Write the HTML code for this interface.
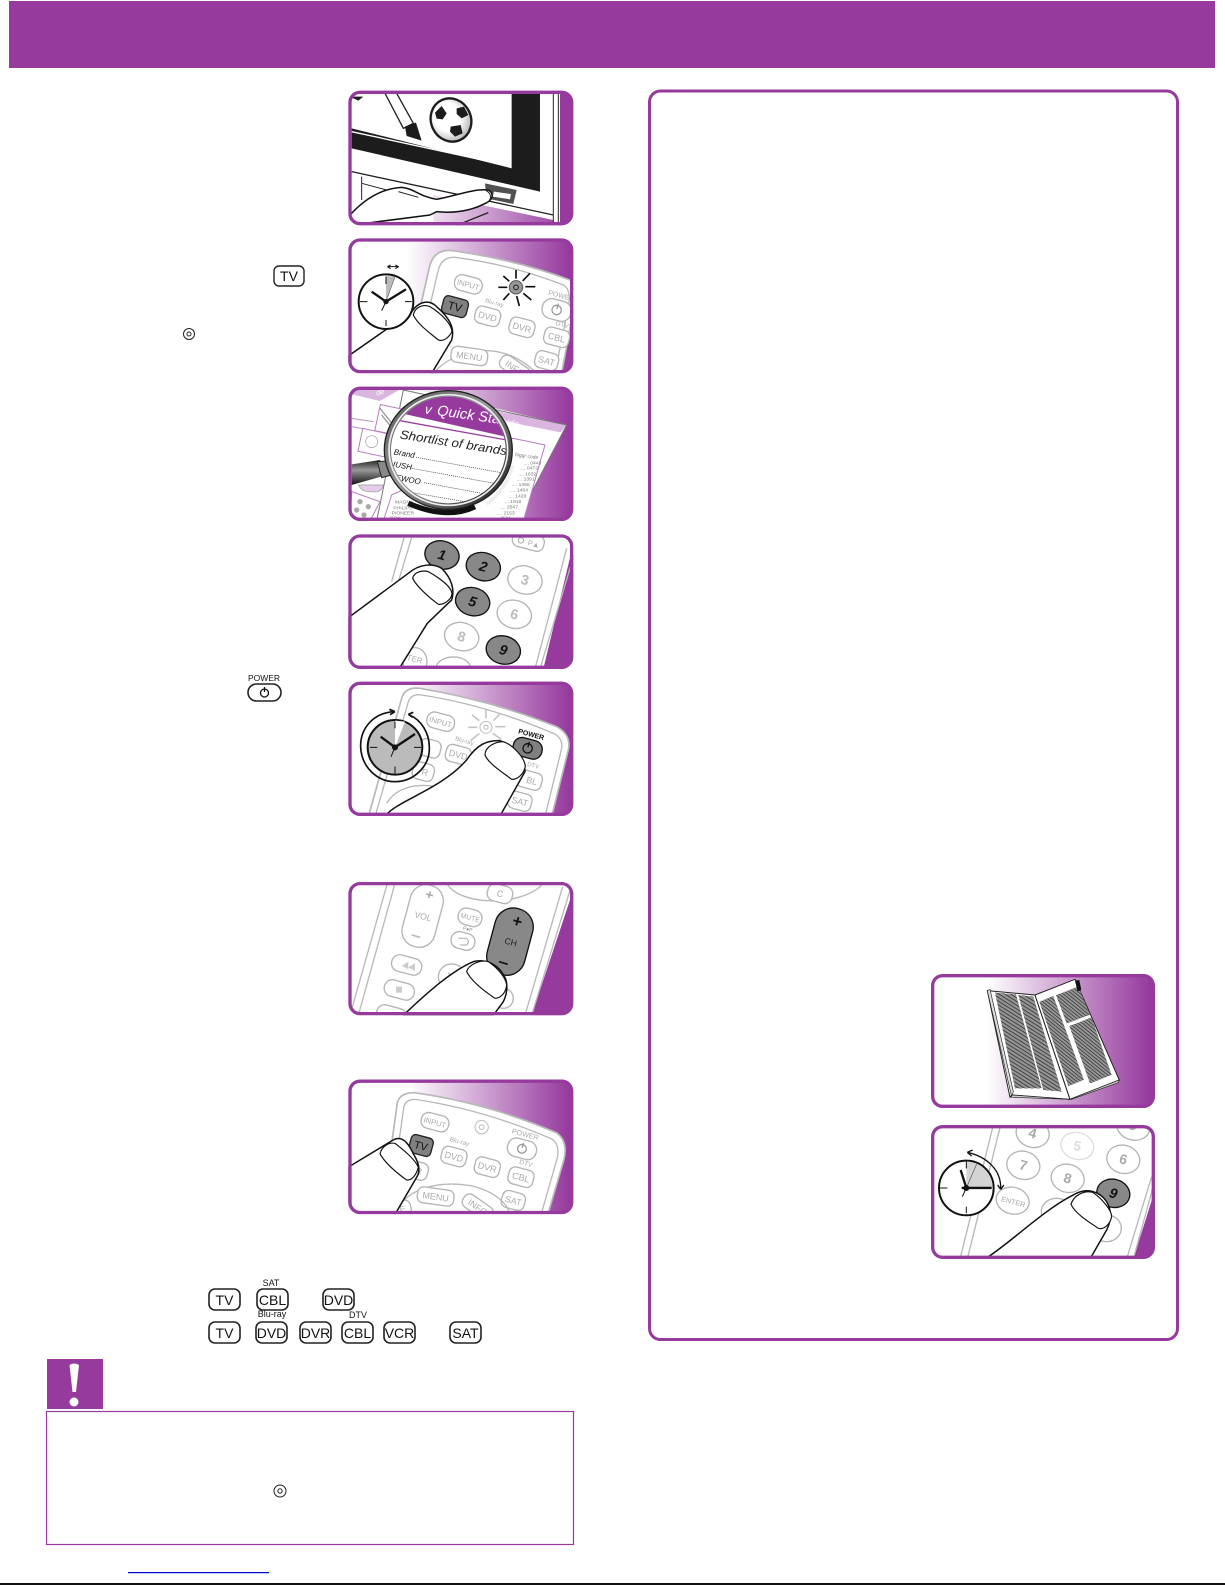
<!DOCTYPE html>
<html><head><meta charset="utf-8"><style>
html,body{margin:0;padding:0;background:#fff}
svg{display:block}
text{font-family:"Liberation Sans",sans-serif}
.f{fill:none;stroke:#963a9e;stroke-width:10}
.rb{fill:#fff;stroke:#b4b4b4;stroke-width:4}
.rt{fill:#aaa;font-size:27px;text-anchor:middle}
.in{fill:#aaa;font-size:23px;text-anchor:middle}
.rd{fill:none;stroke:#b8b8b8;stroke-width:4}
.fg{fill:#fff;stroke:#111;stroke-width:4.5;stroke-linejoin:round}
.k{fill:#fff;stroke:#222;stroke-width:1.6}
.kt{fill:#111;font-size:14px;text-anchor:middle}
.ks{fill:#111;font-size:9px;text-anchor:middle}
.dk{fill:#888;stroke:#111;stroke-width:4}
</style></head><body>
<svg width="1225" height="1585" viewBox="0 0 1225 1585" xmlns="http://www.w3.org/2000/svg">
<defs>
<linearGradient id="g" gradientUnits="userSpaceOnUse" x1="200" y1="0" x2="690" y2="0"><stop offset="0" stop-color="#fff"/><stop offset="1" stop-color="#963a9e"/></linearGradient>
<linearGradient id="gb" gradientUnits="userSpaceOnUse" x1="230" y1="0" x2="720" y2="0"><stop offset="0" stop-color="#fff"/><stop offset="1" stop-color="#963a9e"/></linearGradient>
<radialGradient id="ball" cx=".45" cy=".4" r=".65"><stop offset=".5" stop-color="#fff"/><stop offset="1" stop-color="#aaa"/></radialGradient>
<linearGradient id="ring" x1="0" y1="0" x2="1" y2="1"><stop offset="0" stop-color="#555"/><stop offset=".45" stop-color="#999"/><stop offset="1" stop-color="#111"/></linearGradient>
<linearGradient id="hd" x1="0" y1="0" x2="0" y2="1"><stop offset="0" stop-color="#222"/><stop offset=".4" stop-color="#999"/><stop offset="1" stop-color="#111"/></linearGradient>
<pattern id="lines" width="6" height="4" patternUnits="userSpaceOnUse" patternTransform="rotate(-13)"><rect width="6" height="4" fill="#fff"/><rect width="6" height="2.600" fill="#333"/></pattern>
<pattern id="lines2" width="6" height="4" patternUnits="userSpaceOnUse" patternTransform="rotate(-18)"><rect width="6" height="4" fill="#fff"/><rect width="6" height="2.600" fill="#333"/></pattern>
<clipPath id="c1"><rect x="25" y="32" width="675" height="404" rx="35"/></clipPath>
<clipPath id="c2"><rect x="25" y="475" width="675" height="405" rx="35"/></clipPath>
<clipPath id="c3"><rect x="25" y="35" width="675" height="403" rx="35"/></clipPath>
<clipPath id="c4"><rect x="25" y="478" width="675" height="404" rx="35"/></clipPath>
<clipPath id="c5"><rect x="25" y="35" width="675" height="403" rx="35"/></clipPath>
<clipPath id="c6"><rect x="25" y="636" width="675" height="400" rx="35"/></clipPath>
<clipPath id="c7"><rect x="25" y="0" width="675" height="404" rx="35"/></clipPath>
<clipPath id="c8"><rect x="63" y="42" width="672" height="402" rx="35"/></clipPath>
<clipPath id="c9"><rect x="63" y="495" width="672" height="402" rx="35"/></clipPath>
<clipPath id="mg"><ellipse cx="325" cy="225" rx="172" ry="160"/></clipPath>
</defs>

<rect width="1225" height="1585" fill="#fff"/>
<rect x="9" y="1" width="1206" height="67" fill="#963a9e"/>

<!-- Panel 1 -->
<g transform="translate(340,80) scale(.3333)"><g clip-path="url(#c1)">
<rect x="25" y="32" width="675" height="404" fill="#fff"/>
<rect x="660" y="32" width="40" height="404" fill="#963a9e"/>
<path d="M280,345L640,420V436H280Z" fill="url(#g)"/>
<path d="M35,145L515,265V40H600V335L35,205Z" fill="#1c1c1c"/>
<path d="M35,155L510,258" stroke="#fff" stroke-width="4" fill="none"/>
<path d="M640,32V436M655,32V436" stroke="#222" stroke-width="3"/>
<path d="M35,275L640,405" stroke="#222" stroke-width="4"/>
<path d="M65,290V360M65,310L140,330" stroke="#222" stroke-width="3"/>
<path d="M135,40L170,40L220,130L190,145Z" fill="#fff" stroke="#222" stroke-width="4"/>
<path d="M195,140L228,128L245,182L200,168Z" fill="#1c1c1c"/>
<path d="M30,50L70,50L55,62Z" fill="#1c1c1c"/>
<ellipse cx="333" cy="120" rx="60" ry="66" fill="url(#ball)" stroke="#1c1c1c" stroke-width="7" transform="rotate(-25 333 120)"/>
<path d="M285,98L305,78L320,100L308,118L290,116Z M350,85L372,80L385,105L365,115L350,102Z M332,140L362,135L368,160L345,170L330,155Z" fill="#1c1c1c"/>
<path d="M435,310L530,330L520,372L440,355Z" fill="#333" opacity=".85"/>
<path d="M462,335L513,342L510,358L458,350Z" fill="#fff"/>
<path d="M30,405C80,350 130,325 185,322C220,325 240,350 290,358C340,350 400,325 445,330C462,340 460,358 440,368C390,395 340,400 290,395L270,405L30,436Z" class="fg"/>
<path d="M435,330C455,340 455,355 445,365" fill="none" stroke="#222" stroke-width="3"/>
<path d="M175,335L235,352" stroke="#222" stroke-width="3"/>
<path d="M350,436L445,398" stroke="#222" stroke-width="4"/>
</g><rect x="30" y="37" width="665" height="394" rx="30" class="f"/></g>

<!-- Panel 2 -->
<g transform="translate(340,80) scale(.3333)"><g clip-path="url(#c2)">
<rect x="25" y="475" width="675" height="405" fill="url(#g)"/>
<path d="M25,480H200V880H25Z" fill="#fff"/>
<path d="M195,880L270,555Q285,505 340,512Q530,540 690,600Q715,620 702,680L665,880Z" fill="#fff" stroke="#b8b8b8" stroke-width="5"/>
<path d="M222,880L295,570Q305,530 345,532Q520,555 670,615Q695,630 685,680L645,880" class="rd"/>
<g transform="translate(385,613) rotate(15)"><rect x="-42" y="-24" width="84" height="48" rx="22" class="rb"/><text y="9" class="in">INPUT</text></g>
<g transform="translate(650,690) rotate(15)"><rect x="-44" y="-30" width="88" height="60" rx="28" class="rb"/><circle r="14" fill="none" stroke="#999" stroke-width="4"/><path d="M0,-20V-3" stroke="#999" stroke-width="4"/></g>
<text transform="translate(662,654) rotate(15)" class="rt" style="font-size:21px">POWER</text>
<text transform="translate(462,674) rotate(15)" class="rt" style="font-size:18px">Blu-ray</text>
<text transform="translate(665,740) rotate(15)" class="rt" style="font-size:20px">DTV</text>
<g transform="translate(443,709) rotate(15)"><rect x="-38" y="-26" width="76" height="52" rx="18" class="rb"/><text y="10" class="rt">DVD</text></g>
<g transform="translate(546,742) rotate(15)"><rect x="-38" y="-26" width="76" height="52" rx="18" class="rb"/><text y="10" class="rt">DVR</text></g>
<g transform="translate(650,772) rotate(15)"><rect x="-38" y="-26" width="76" height="52" rx="18" class="rb"/><text y="10" class="rt">CBL</text></g>
<g transform="translate(620,842) rotate(15)"><rect x="-35" y="-26" width="70" height="52" rx="18" class="rb"/><text y="10" class="rt">SAT</text></g>
<path d="M280,880C340,810 480,770 590,880" class="rd"/>
<g transform="translate(388,828) rotate(8)"><rect x="-55" y="-24" width="110" height="48" rx="18" class="rb"/><text y="10" class="rt">MENU</text></g>
<g transform="translate(525,865) rotate(35)"><rect x="-50" y="-22" width="100" height="44" rx="18" class="rb"/><text y="10" class="rt">INFO</text></g>
<g transform="translate(345,680) rotate(15)"><rect x="-38" y="-27" width="76" height="54" rx="14" fill="#808080" stroke="#222" stroke-width="4"/><text y="12" fill="#111" font-size="34" text-anchor="middle">TV</text></g>
<circle cx="528" cy="622" r="20" fill="#999" stroke="#555" stroke-width="3"/><circle cx="528" cy="622" r="7" fill="none" stroke="#222" stroke-width="3"/>
<path d="M528,596V570M548,603L570,580M556,620H586M550,640L574,660M530,648L538,678M508,640L490,660M502,622H475M508,604L490,588" stroke="#111" stroke-width="5"/>
<path d="M25,828L215,695C240,660 270,660 290,680C330,715 345,745 335,780L272,885L25,885Z" class="fg"/>
<path d="M220,705C225,680 250,672 270,680C310,705 335,735 336,755C325,775 310,785 295,780C265,755 235,735 220,705Z" class="fg" style="stroke-width:3.5"/>
<circle cx="138" cy="665" r="82" fill="#fff" stroke="#111" stroke-width="6"/>
<path d="M138,665V588L165,590Z" fill="#bbb"/>
<path d="M138,665L165,590" stroke="#666" stroke-width="2"/>
<path d="M138,590V612M138,720V738M60,665H82M195,665H215" stroke="#111" stroke-width="3"/>
<path d="M95,635L138,665L198,628" fill="none" stroke="#111" stroke-width="7"/>
<path d="M138,665L125,692" stroke="#111" stroke-width="3"/><circle cx="138" cy="665" r="8" fill="#111"/>
<path d="M142,560H176M142,560L152,555M142,560L152,566M176,560L166,555M176,560L166,566" stroke="#111" stroke-width="3"/>
</g><rect x="30" y="480" width="665" height="395" rx="30" class="f"/></g>

<!-- Panel 3 -->
<g transform="translate(340,375) scale(.3333)"><g clip-path="url(#c3)">
<rect x="25" y="35" width="675" height="403" fill="url(#g)"/>
<path d="M25,35H190L680,150L530,440H25Z" fill="#fff"/>
<path d="M25,35H195L120,78L25,55Z" fill="#d9b5df"/>
<path d="M470,108L680,150L662,172L500,140Z" fill="#d9b5df"/>
<text transform="translate(498,150) rotate(12)" fill="#fff" font-size="28" font-style="italic">ide</text>
<text transform="translate(110,62) rotate(-15)" fill="#fff" font-size="22" font-style="italic">de</text>
<path d="M110,438L190,45L680,150L530,438" fill="none" stroke="#777" stroke-width="3"/>
<path d="M35,130L100,140M35,155L90,165" stroke="#b790c0" stroke-width="3"/>
<rect x="112" y="95" width="70" height="80" fill="#fff" stroke="#b77cc0" stroke-width="3" transform="rotate(12 147 135)"/>
<rect x="60" y="170" width="100" height="70" fill="#fff" stroke="#b77cc0" stroke-width="3" transform="rotate(12 110 205)"/>
<circle cx="95" cy="200" r="18" fill="#fff" stroke="#999" stroke-width="2"/>
<path d="M120,100L175,170M125,120L165,170" stroke="#999" stroke-width="4"/>
<path d="M35,350L120,380L90,438H30Z" fill="#fff" stroke="#b77cc0" stroke-width="3"/>
<circle cx="60" cy="380" r="8" fill="#aaa"/><circle cx="85" cy="395" r="8" fill="#aaa"/><circle cx="50" cy="405" r="8" fill="#aaa"/><circle cx="72" cy="420" r="8" fill="#aaa"/>
<path d="M55,330L130,330Q125,355 95,350Q65,352 55,330Z" fill="#e5cce8" stroke="#999" stroke-width="2"/>
<path d="M520,190L615,210L550,438H130L155,360Z" fill="#fff" stroke="#b77cc0" stroke-width="3"/>
<g font-size="15" fill="#777"><text x="525" y="243" transform="rotate(8 525 243)">biggr code</text><text x="550" y="268">.... 0443</text><text x="540" y="283">.... 0472</text><text x="535" y="301">.... 1632</text><text x="530" y="316">.... 1391</text><text x="515" y="333">.... 1368</text><text x="510" y="350">.... 1464</text><text x="505" y="367">.... 1428</text><text x="490" y="384">.... 1916</text><text x="480" y="401">.... 2547</text><text x="470" y="418">.... 2153</text><text x="460" y="434">.... 2591</text></g>
<g font-size="15" fill="#777"><text x="165" y="385">MAGNA</text><text x="160" y="403">PHILIPS</text><text x="155" y="419">PIONEER</text><text x="150" y="433">ROK</text></g>
<path d="M35,268L120,255L140,300L35,330Z" fill="url(#hd)"/>
<path d="M112,260L145,258L155,300L125,308Z" fill="#888" stroke="#222" stroke-width="3"/>
<ellipse cx="325" cy="225" rx="192" ry="178" fill="url(#ring)" stroke="#222" stroke-width="4"/>
<ellipse cx="325" cy="225" rx="178" ry="166" fill="none" stroke="#eee" stroke-width="5"/>
<g clip-path="url(#mg)"><rect x="100" y="40" width="460" height="370" fill="#fff"/>
<path d="M140,40H520V190L140,105Z" fill="#963a9e"/>
<path d="M140,130L500,195" stroke="#963a9e" stroke-width="4"/>
<text transform="translate(290,120) rotate(8)" fill="#fff" font-size="44" font-style="italic">Quick Star</text>
<text transform="translate(253,115) rotate(8)" fill="#fff" font-size="40" font-style="italic">v</text>
<text transform="translate(178,190) rotate(9)" fill="#222" font-size="37" font-style="italic" textLength="325" lengthAdjust="spacingAndGlyphs">Shortlist of brands</text>
<g font-size="24" font-style="italic" fill="#111"><text transform="translate(160,238) rotate(10)">Brand</text><text transform="translate(158,275) rotate(10)">IUSH</text><text transform="translate(166,315) rotate(10)">EWOO</text></g>
<path d="M228,247L495,295M215,280L490,330M252,323L480,365M200,350L460,395" stroke="#222" stroke-width="2" stroke-dasharray="3 3"/></g>
<path d="M440,388Q505,335 518,270" fill="none" stroke="#eee" stroke-width="10"/>
<path d="M205,385Q320,435 405,395" fill="none" stroke="#111" stroke-width="16"/>
</g><rect x="30" y="40" width="665" height="393" rx="30" class="f"/></g>

<!-- Panel 4 -->
<g transform="translate(340,375) scale(.3333)"><g clip-path="url(#c4)">
<rect x="25" y="478" width="675" height="404" fill="#fff"/>
<path d="M692,540L610,882H700V540Z" fill="#963a9e"/>
<path d="M195,478L155,620M218,478L175,620M705,530L600,882M680,520L585,882" stroke="#b8b8b8" stroke-width="4" fill="none"/>
<g transform="translate(565,498) rotate(15)"><rect x="-48" y="-24" width="96" height="48" rx="20" class="rb"/><circle cx="-22" cy="4" r="8" fill="none" stroke="#aaa" stroke-width="3"/><text x="18" y="12" class="rt" style="font-size:22px">P&#9650;</text></g>
<ellipse cx="430" cy="575" rx="52" ry="42" class="dk" transform="rotate(15 430 575)"/><text transform="translate(430,575) rotate(15)" y="14" font-size="42" font-weight="bold" font-style="italic" fill="#111" text-anchor="middle">2</text>
<ellipse cx="306" cy="540" rx="52" ry="42" class="dk" transform="rotate(15 306 540)"/><text transform="translate(306,540) rotate(15)" y="14" font-size="42" font-weight="bold" font-style="italic" fill="#111" text-anchor="middle">1</text>
<ellipse cx="398" cy="680" rx="52" ry="42" class="dk" transform="rotate(15 398 680)"/><text transform="translate(398,680) rotate(15)" y="14" font-size="42" font-weight="bold" font-style="italic" fill="#111" text-anchor="middle">5</text>
<ellipse cx="490" cy="825" rx="52" ry="42" class="dk" transform="rotate(15 490 825)"/><text transform="translate(490,825) rotate(15)" y="14" font-size="42" font-weight="bold" font-style="italic" fill="#111" text-anchor="middle">9</text>
<ellipse cx="555" cy="615" rx="52" ry="42" class="rb" transform="rotate(15 555 615)"/><text transform="translate(555,615) rotate(15)" y="14" font-size="42" font-weight="bold" fill="#bbb" text-anchor="middle">3</text>
<ellipse cx="523" cy="718" rx="52" ry="42" class="rb" transform="rotate(15 523 718)"/><text transform="translate(523,718) rotate(15)" y="14" font-size="42" font-weight="bold" fill="#bbb" text-anchor="middle">6</text>
<ellipse cx="365" cy="785" rx="52" ry="42" class="rb" transform="rotate(15 365 785)"/><text transform="translate(365,785) rotate(15)" y="14" font-size="42" font-weight="bold" fill="#bbb" text-anchor="middle">8</text>
<ellipse cx="225" cy="860" rx="36" ry="42" class="rb"/><text transform="translate(222,860) rotate(15)" font-size="24" fill="#aaa" text-anchor="middle">TER</text>
<ellipse cx="340" cy="880" rx="52" ry="34" class="rb"/>
<path d="M25,728L205,595C240,565 280,565 305,580C335,610 345,645 335,675L262,745L175,885L25,885Z" class="fg"/>
<path d="M218,610C222,590 250,585 265,590C300,610 333,635 336,655C335,675 310,690 295,688C270,670 230,635 218,610Z" class="fg" style="stroke-width:3.5"/>
</g><rect x="30" y="483" width="665" height="394" rx="30" class="f"/></g>

<!-- Panel 5 -->
<g transform="translate(340,670) scale(.3333)"><g clip-path="url(#c5)">
<rect x="25" y="35" width="675" height="403" fill="url(#g)"/>
<path d="M25,35H190V438H25Z" fill="#fff"/>
<path d="M85,440L185,85Q195,50 240,55Q450,90 650,170Q695,195 685,240L635,440Z" fill="#fff" stroke="#b8b8b8" stroke-width="5"/>
<path d="M105,440L205,95Q215,70 245,75Q440,105 640,190Q670,205 665,235L615,440" class="rd"/>
<g transform="translate(302,155) rotate(15)"><rect x="-42" y="-24" width="84" height="48" rx="22" class="rb"/><text y="9" class="in">INPUT</text></g>
<circle cx="438" cy="172" r="18" fill="#fff" stroke="#bbb" stroke-width="3"/><circle cx="438" cy="172" r="6" fill="none" stroke="#bbb" stroke-width="3"/>
<path d="M438,145V118M460,152L482,130M466,170H496M458,190L484,208M418,190L392,212M412,172H385M418,152L396,135" stroke="#c4c4c4" stroke-width="5"/>
<text transform="translate(372,218) rotate(15)" class="rt" style="font-size:18px">Blu-ray</text>
<g transform="translate(355,254) rotate(15)"><rect x="-38" y="-26" width="76" height="52" rx="18" class="rb"/><text y="10" class="rt">DVD</text></g>
<g transform="translate(270,235) rotate(15)"><rect x="-32" y="-26" width="64" height="52" rx="18" class="rb"/></g>
<g transform="translate(250,305) rotate(15)"><rect x="-32" y="-26" width="64" height="52" rx="18" class="rb"/><text x="5" y="10" class="rt">R</text></g>
<g transform="translate(568,330) rotate(15)"><rect x="-38" y="-26" width="76" height="52" rx="18" class="rb"/><text y="10" class="rt" x="8">BL</text></g>
<g transform="translate(540,394) rotate(15)"><rect x="-35" y="-26" width="70" height="52" rx="18" class="rb"/><text y="10" class="rt">SAT</text></g>
<text transform="translate(578,292) rotate(15)" class="rt" style="font-size:18px">DTV</text>
<path d="M140,400C170,350 230,340 290,350" class="rd"/>
<text transform="translate(572,200) rotate(15)" font-size="21" font-weight="bold" fill="#111" text-anchor="middle">POWER</text>
<g transform="translate(563,235) rotate(15)"><rect x="-44" y="-28" width="88" height="56" rx="26" fill="#808080" stroke="#111" stroke-width="4"/><circle r="14" fill="none" stroke="#111" stroke-width="4"/><path d="M0,-20V-3" stroke="#111" stroke-width="4"/></g>
<path d="M135,438C175,390 300,360 380,270C410,225 440,210 480,212C520,225 555,270 555,305L480,438Z" class="fg"/>
<path d="M435,255C435,230 465,215 490,215C520,225 555,265 556,290C550,315 530,330 515,328C485,305 445,280 435,255Z" class="fg" style="stroke-width:3.5"/>
<circle cx="165" cy="232" r="82" fill="#bbb" stroke="#111" stroke-width="6"/>
<path d="M165,232V152L195,155Z" fill="#fff"/>
<path d="M165,155V175M165,290V310M90,232H112M222,232H243" stroke="#111" stroke-width="3"/>
<path d="M122,200L165,232L225,192" fill="none" stroke="#111" stroke-width="7"/>
<path d="M165,232L153,260" stroke="#111" stroke-width="3"/><circle cx="165" cy="232" r="9" fill="#111"/>
<path d="M160,125C95,130 60,180 62,232C65,290 110,335 165,335C220,335 270,290 268,232C268,190 245,150 208,135" fill="none" stroke="#111" stroke-width="5"/>
<path d="M165,125L148,118M165,125L150,134M205,133L220,127M205,133L218,142" stroke="#111" stroke-width="5"/>
</g><rect x="30" y="40" width="665" height="393" rx="30" class="f"/></g>

<!-- Panel 6 -->
<g transform="translate(340,670) scale(.3333)"><g clip-path="url(#c6)">
<rect x="25" y="636" width="675" height="400" fill="#fff"/>
<path d="M700,660L575,1036H700Z" fill="#963a9e"/>
<path d="M142,640L30,1036M165,640L55,1036M692,655L575,1036M668,650L555,1036" stroke="#b8b8b8" stroke-width="4" fill="none"/>
<path d="M320,640C360,710 550,710 610,640" class="rd"/>
<rect x="442" y="645" width="76" height="52" rx="22" class="rb" transform="rotate(15 480 671)"/><text transform="translate(478,680) rotate(15)" class="rt">C</text>
<rect x="-50" y="-95" width="100" height="190" rx="48" class="rb" transform="translate(248,738) rotate(15)"/>
<text transform="translate(247,748) rotate(15)" class="rt" style="font-size:26px">VOL</text><text transform="translate(265,688) rotate(15)" class="rt" style="font-size:42px;font-weight:bold">+</text><path d="M215,795L240,802" stroke="#bbb" stroke-width="5"/>
<rect x="-36" y="-25" width="72" height="50" rx="24" class="rb" transform="translate(390,742) rotate(15)"/><text transform="translate(389,750) rotate(15)" class="in" style="font-size:21px">MUTE</text>
<text transform="translate(382,782) rotate(15)" class="rt" style="font-size:15px;fill:#888">P&#9679;P</text>
<rect x="-36" y="-25" width="72" height="50" rx="24" class="rb" transform="translate(369,813) rotate(15)"/><path d="M355,805H380Q390,815 380,825H360" fill="none" stroke="#aaa" stroke-width="3"/>
<rect x="-46" y="-25" width="92" height="50" rx="24" class="rb" transform="translate(200,885) rotate(15)"/><path d="M205,875L185,888L205,898ZM225,880L205,892L225,903Z" fill="#ccc"/>
<rect x="-46" y="-25" width="92" height="50" rx="24" class="rb" transform="translate(178,960) rotate(15)"/><rect x="168" y="950" width="18" height="18" fill="#ccc"/>
<ellipse cx="335" cy="920" rx="40" ry="38" class="rb"/><path d="M325,905L350,925L325,935Z" fill="#ccc"/>
<rect x="-46" y="-25" width="92" height="50" rx="24" class="rb" transform="translate(155,1035) rotate(15)"/>
<ellipse cx="490" cy="985" rx="30" ry="30" class="rb"/>
<rect x="-58" y="-102" width="116" height="204" rx="56" class="dk" transform="translate(510,815) rotate(15)"/>
<text transform="translate(528,770) rotate(15)" font-size="50" font-weight="bold" fill="#111" text-anchor="middle">+</text>
<text transform="translate(510,825) rotate(15)" font-size="26" fill="#222" text-anchor="middle">CH</text>
<path d="M477,875L503,883" stroke="#111" stroke-width="5"/>
<path d="M190,1036C270,960 340,900 400,875C440,865 480,885 498,930C505,960 495,985 490,995L460,1036Z" class="fg"/>
<path d="M380,905C385,885 420,868 445,875C475,895 498,925 500,945C498,970 480,985 465,985C435,965 395,935 380,905Z" class="fg" style="stroke-width:3.5"/>
</g><rect x="30" y="641" width="665" height="390" rx="30" class="f"/></g>

<!-- Panel 7 -->
<g transform="translate(340,1079.500) scale(.3333)"><g clip-path="url(#c7)">
<rect x="25" y="0" width="675" height="404" fill="url(#g)"/>
<path d="M25,0H220V404H25Z" fill="#fff"/>
<path d="M125,410L172,70Q180,38 225,40Q440,70 650,160Q685,185 672,240L622,410Z" fill="#fff" stroke="#b8b8b8" stroke-width="5"/>
<path d="M145,410L192,80Q200,58 228,60Q430,90 635,178Q660,195 652,235L602,410" class="rd"/>
<g transform="translate(285,128) rotate(15)"><rect x="-42" y="-24" width="84" height="48" rx="22" class="rb"/><text y="9" class="in">INPUT</text></g>
<circle cx="425" cy="143" r="20" fill="#fff" stroke="#bbb" stroke-width="3"/><circle cx="425" cy="143" r="7" fill="none" stroke="#bbb" stroke-width="3"/>
<text transform="translate(357,192) rotate(15)" class="rt" style="font-size:19px">Blu-ray</text>
<g transform="translate(342,231) rotate(15)"><rect x="-38" y="-26" width="76" height="52" rx="18" class="rb"/><text y="10" class="rt">DVD</text></g>
<g transform="translate(442,263) rotate(15)"><rect x="-38" y="-26" width="76" height="52" rx="18" class="rb"/><text y="10" class="rt">DVR</text></g>
<g transform="translate(543,293) rotate(15)"><rect x="-38" y="-26" width="76" height="52" rx="18" class="rb"/><text y="10" class="rt">CBL</text></g>
<g transform="translate(520,363) rotate(15)"><rect x="-35" y="-26" width="70" height="52" rx="18" class="rb"/><text y="10" class="rt">SAT</text></g>
<text transform="translate(556,258) rotate(15)" class="rt" style="font-size:20px">DTV</text>
<text transform="translate(554,172) rotate(15)" class="rt" style="font-size:22px">POWER</text>
<g transform="translate(546,208) rotate(15)"><rect x="-44" y="-28" width="88" height="56" rx="26" class="rb"/><circle r="13" fill="none" stroke="#999" stroke-width="4"/><path d="M0,-18V-3" stroke="#999" stroke-width="4"/></g>
<path d="M170,404C190,330 290,300 400,320C470,340 500,370 510,404" class="rd"/>
<g transform="translate(287,351) rotate(8)"><rect x="-55" y="-24" width="110" height="48" rx="18" class="rb"/><text y="10" class="rt">MENU</text></g>
<g transform="translate(413,383) rotate(35)"><rect x="-50" y="-22" width="100" height="44" rx="18" class="rb"/><text y="10" class="rt">INFO</text></g>
<g transform="translate(188,388) rotate(-10)"><rect x="-25" y="-25" width="50" height="50" rx="18" class="rb"/><text y="10" class="rt">E</text></g>
<g transform="translate(232,273) rotate(15)"><rect x="-32" y="-26" width="64" height="52" rx="18" class="rb"/><text x="5" y="10" class="rt">R</text></g>
<g transform="translate(243,198) rotate(15)"><rect x="-34" y="-28" width="68" height="56" rx="14" fill="#808080" stroke="#222" stroke-width="4"/><text y="12" fill="#111" font-size="32" text-anchor="middle">TV</text></g>
<path d="M25,263L157,183C185,165 205,190 220,223C240,255 240,275 232,290L162,410H25Z" class="fg"/>
<path d="M120,223C125,200 150,185 167,193C195,215 225,240 235,263C230,285 215,305 199,301C170,280 135,250 120,223Z" class="fg" style="stroke-width:3.5"/>
</g><rect x="30" y="5" width="665" height="394" rx="30" class="f"/></g>

<!-- Right panel -->
<rect x="649.500" y="91" width="528" height="1248.500" rx="11" fill="none" stroke="#963a9e" stroke-width="3"/>

<!-- Panel 8: book -->
<g transform="translate(910,960) scale(.3333)"><g clip-path="url(#c8)">
<rect x="63" y="42" width="672" height="402" fill="url(#gb)"/>
<path d="M63,42H235V444H63Z" fill="#fff"/>
<path d="M232,92L375,105L480,418L305,405L300,412Z" fill="#fff" stroke="#222" stroke-width="3"/>
<path d="M232,92L240,88L310,395L305,410Z" fill="#ddd" stroke="#222" stroke-width="2"/>
<path d="M255,98L318,103L395,385L315,385Z M325,105L370,110L455,395L400,390Z" fill="url(#lines)"/>
<path d="M375,105L495,58L628,360L480,418Z" fill="#fff" stroke="#222" stroke-width="3"/>
<path d="M388,125L430,108L522,360L475,378Z M438,105L505,80L540,165L470,190Z M478,198L545,172L605,345L540,370Z" fill="url(#lines2)"/>
<path d="M495,62L508,60L514,90L503,94Z" fill="#111"/>
<path d="M305,405L480,418L628,360L625,368L485,418L305,412Z" fill="#ccc" stroke="#222" stroke-width="2"/>
</g><rect x="68" y="47" width="662" height="392" rx="30" class="f"/></g>

<!-- Panel 9 -->
<g transform="translate(910,960) scale(.3333)"><g clip-path="url(#c9)">
<rect x="63" y="495" width="672" height="402" fill="#fff"/>
<path d="M735,690L670,897H735Z" fill="#963a9e"/>
<path d="M250,495L150,897M272,495L172,897M735,660L670,897M725,650L650,897" stroke="#b8b8b8" stroke-width="4" fill="none"/>
<ellipse cx="368" cy="520" rx="50" ry="42" class="rb" transform="rotate(15 368 520)"/><text transform="translate(368,520) rotate(15)" y="14" font-size="42" font-weight="bold" fill="#aaa" text-anchor="middle">4</text>
<ellipse cx="502" cy="558" rx="50" ry="40" fill="#fff" stroke="#ddd" stroke-width="4" transform="rotate(15 502 558)"/><text transform="translate(502,558) rotate(15)" y="14" font-size="42" font-weight="bold" fill="#ddd" text-anchor="middle">5</text>
<ellipse cx="670" cy="500" rx="50" ry="40" class="rb" transform="rotate(15 670 500)"/><text transform="translate(668,510)" font-size="42" font-weight="bold" fill="#aaa" text-anchor="middle">3</text>
<ellipse cx="340" cy="616" rx="50" ry="42" class="rb" transform="rotate(15 340 616)"/><text transform="translate(340,616) rotate(15)" y="14" font-size="42" font-weight="bold" fill="#aaa" text-anchor="middle">7</text>
<ellipse cx="473" cy="655" rx="50" ry="42" class="rb" transform="rotate(15 473 655)"/><text transform="translate(473,655) rotate(15)" y="14" font-size="42" font-weight="bold" fill="#aaa" text-anchor="middle">8</text>
<ellipse cx="640" cy="598" rx="50" ry="42" class="rb" transform="rotate(15 640 598)"/><text transform="translate(640,598) rotate(15)" y="14" font-size="42" font-weight="bold" fill="#aaa" text-anchor="middle">6</text>
<ellipse cx="308" cy="722" rx="50" ry="40" class="rb" transform="rotate(15 308 722)"/><text transform="translate(308,733) rotate(15)" font-size="22" fill="#aaa" text-anchor="middle">ENTER</text>
<ellipse cx="440" cy="755" rx="46" ry="40" class="rb"/><ellipse cx="590" cy="805" rx="44" ry="40" class="rb"/>
<ellipse cx="610" cy="700" rx="50" ry="42" class="dk" transform="rotate(15 610 700)"/><text transform="translate(610,700) rotate(15)" y="14" font-size="42" font-weight="bold" font-style="italic" fill="#111" text-anchor="middle">9</text>
<path d="M225,897C300,850 400,750 490,705C530,680 570,695 590,725C610,760 600,790 590,810L540,897Z" class="fg"/>
<path d="M483,733C490,708 520,690 548,697C575,715 605,750 605,770C600,795 580,810 565,805C535,785 495,760 483,733Z" class="fg" style="stroke-width:3.5"/>
<circle cx="169" cy="684" r="82" fill="#fff" stroke="#111" stroke-width="6"/>
<path d="M169,684V605A80,80 0 0 1 248,684Z" fill="#d4d4d4"/>
<path d="M169,684L200,612" stroke="#555" stroke-width="2"/>
<path d="M169,605V625M169,740V760M90,684H112" stroke="#111" stroke-width="3"/>
<path d="M152,630L169,684H245M155,684H169" fill="none" stroke="#111" stroke-width="7"/>
<path d="M169,684L157,710" stroke="#111" stroke-width="3"/><circle cx="169" cy="684" r="9" fill="#111"/>
<path d="M172,577C230,590 275,630 272,688" fill="none" stroke="#111" stroke-width="4"/>
<path d="M172,577L188,570M172,577L185,588M272,688L263,675M272,688L282,675" stroke="#111" stroke-width="4"/>
</g><rect x="68" y="500" width="662" height="392" rx="30" class="f"/></g>

<!-- inline key icons -->
<rect x="274" y="266" width="30" height="20" rx="5" class="k" style="stroke-width:1.4"/><text x="289" y="281" class="kt">TV</text>
<circle cx="189" cy="334" r="5.500" fill="none" stroke="#222"/><circle cx="189" cy="334" r="2" fill="none" stroke="#222"/>
<text x="264" y="681" class="ks" style="font-size:8.500px">POWER</text>
<rect x="248" y="684" width="33" height="17" rx="8.500" class="k"/><circle cx="264.500" cy="693" r="4" fill="none" stroke="#111" stroke-width="1.300"/><path d="M264.500,687V692" stroke="#111" stroke-width="1.300"/>

<text x="271" y="1286" class="ks">SAT</text>
<rect x="209" y="1289" width="31" height="21" rx="6" class="k"/><text x="224.500" y="1305" class="kt">TV</text>
<rect x="257" y="1289" width="31" height="21" rx="6" class="k"/><text x="272.500" y="1305" class="kt">CBL</text>
<rect x="323" y="1289" width="31" height="21" rx="6" class="k"/><text x="338.500" y="1305" class="kt">DVD</text>
<text x="272" y="1317" class="ks">Blu-ray</text>
<text x="358" y="1318" class="ks">DTV</text>
<rect x="209" y="1322" width="31" height="21" rx="6" class="k"/><text x="224.500" y="1338" class="kt">TV</text>
<rect x="256" y="1322" width="31" height="21" rx="6" class="k"/><text x="271.500" y="1338" class="kt">DVD</text>
<rect x="300" y="1322" width="31" height="21" rx="6" class="k"/><text x="315.500" y="1338" class="kt">DVR</text>
<rect x="342" y="1322" width="31" height="21" rx="6" class="k"/><text x="357.500" y="1338" class="kt">CBL</text>
<rect x="384" y="1322" width="31" height="21" rx="6" class="k"/><text x="399.500" y="1338" class="kt">VCR</text>
<rect x="450" y="1322" width="31" height="21" rx="6" class="k"/><text x="465.500" y="1338" class="kt">SAT</text>

<!-- warning -->
<rect x="47" y="1359" width="56" height="50" fill="#963a9e"/>
<path d="M69.500,1365Q74,1362 79,1365L76,1392H72.500Z" fill="#fff"/><circle cx="74" cy="1402" r="4.500" fill="#fff"/>
<rect x="46.500" y="1411.500" width="527" height="133" fill="none" stroke="#963a9e" stroke-width="1.200"/>
<circle cx="280" cy="1491" r="6" fill="none" stroke="#222"/><circle cx="280" cy="1491" r="2.200" fill="none" stroke="#222"/>

<rect x="128" y="1572" width="141" height="1.200" fill="#0000d8"/>
<rect x="0" y="1583" width="1225" height="2" fill="#111"/>
</svg>
</body></html>
